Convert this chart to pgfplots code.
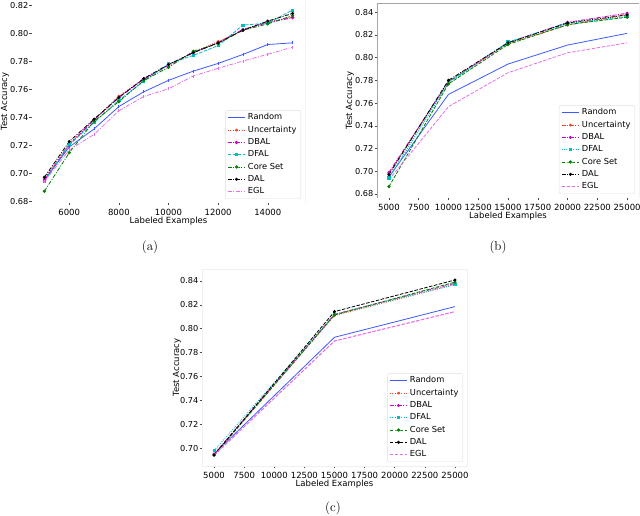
\documentclass[border=0pt]{standalone}
\usepackage{fontspec}
\usepackage{pgfplots}
\pgfplotsset{compat=1.18}
\newfontfamily\dv{DejaVu Sans}
\definecolor{cRand}{RGB}{60,90,255}
\definecolor{cUnc}{RGB}{240,70,40}
\definecolor{cDBAL}{RGB}{200,0,200}
\definecolor{cDFAL}{RGB}{0,190,190}
\definecolor{cCore}{RGB}{0,128,0}
\definecolor{cDAL}{RGB}{0,0,0}
\definecolor{cEGL}{RGB}{230,110,230}
\pgfplotsset{
  base/.style={
    scale only axis,
    anchor=south west,
    tick align=outside,
    major tick length=2.5pt,
    tick style={gray!60!black, line width=0.5pt},
    xtick pos=bottom, ytick pos=left,
    scaled x ticks=false, scaled y ticks=false,
    tick label style={font=\dv\fontsize{8.5}{10}\selectfont},
    label style={font=\dv\fontsize{8.5}{10}\selectfont},
    /pgf/number format/assume math mode=true,
    /pgf/number format/1000 sep={},
    xticklabel style={/pgf/number format/.cd, fixed, precision=0, 1000 sep={}},
    yticklabel style={inner xsep=1pt, font=\dv\fontsize{8.2}{10}\selectfont,
      /pgf/number format/.cd, fixed, fixed zerofill, precision=2},
    xlabel={Labeled Examples},
    ylabel={Test Accuracy},
    xlabel style={yshift=5pt},
    ylabel style={at={([xshift=-27pt]axis description cs:0,0.5)}, anchor=center},
    legend cell align=left,
    legend style={at={(1,0)}, anchor=south east, xshift=-4pt, yshift=4pt,
      draw=gray!25, rounded corners=2pt, fill=white,
      font=\dv\fontsize{8.3}{9.5}\selectfont,
      inner xsep=2pt, inner ysep=1pt,
      nodes={inner sep=2.35pt}},
    every axis plot/.append style={line width=0.8pt},
  },
  dotted2/.style={dash pattern=on 1pt off 1.3pt},
  dashdot2/.style={dash pattern=on 4pt off 1.5pt on 1pt off 1.5pt},
  dashed2/.style={dash pattern=on 3.5pt off 1.5pt},
}
\begin{document}
\begin{tikzpicture}
\useasboundingbox (0,0) rectangle (640pt,516pt);

% ---------------- (a) ----------------
\begin{axis}[base,
  at={(32pt,313pt)}, width=273pt, height=203pt,
  xmin=4500, xmax=15500, ymin=0.6786, ymax=0.8236,
  xtick={6000,8000,10000,12000,14000},
  ytick={0.68,0.70,0.72,0.74,0.76,0.78,0.80,0.82},
  axis line style={draw=none},
]
\draw[gray!70, line width=0.6pt] (rel axis cs:1,0) -- (rel axis cs:1,1);
\addplot[cRand, mark=|, mark size=1.5pt, legend image post style={mark=none}] coordinates {
(5000,0.695)(6000,0.7186)(7000,0.7315)(8000,0.7475)(9000,0.758)(10000,0.7662)
(11000,0.7728)(12000,0.7783)(13000,0.7847)(14000,0.7918)(15000,0.7930)};
\addlegendentry{Random}
\addplot[cUnc, dotted2, mark=*, mark size=1pt, mark options={solid}] coordinates {
(5000,0.696)(6000,0.721)(7000,0.738)(8000,0.755)(9000,0.767)(10000,0.777)
(11000,0.786)(12000,0.794)(13000,0.802)(14000,0.808)(15000,0.8115)};
\addlegendentry{Uncertainty}
\addplot[cDBAL, dashdot2, line width=1.1pt, mark=*, mark size=1.1pt, mark options={solid}] coordinates {
(5000,0.695)(6000,0.720)(7000,0.738)(8000,0.754)(9000,0.767)(10000,0.777)
(11000,0.786)(12000,0.793)(13000,0.8025)(14000,0.8075)(15000,0.8110)};
\addlegendentry{DBAL}
\addplot[cDFAL, dashed2, mark=square*, mark size=1.1pt, mark options={solid}] coordinates {
(5000,0.694)(6000,0.7205)(7000,0.736)(8000,0.752)(9000,0.7655)(10000,0.778)
(11000,0.784)(12000,0.791)(13000,0.8057)(14000,0.807)(15000,0.8164)};
\addlegendentry{DFAL}
\addplot[cCore, dashdot2, mark=*, mark size=1.2pt, mark options={solid}] coordinates {
(5000,0.687)(6000,0.7145)(7000,0.737)(8000,0.751)(9000,0.766)(10000,0.7755)
(11000,0.787)(12000,0.7925)(13000,0.802)(14000,0.8065)(15000,0.8125)};
\addlegendentry{Core Set}
\addplot[cDAL, dashdot2, mark=*, mark size=1.1pt, mark options={solid}] coordinates {
(5000,0.697)(6000,0.7225)(7000,0.7385)(8000,0.754)(9000,0.7675)(10000,0.7775)
(11000,0.786)(12000,0.793)(13000,0.802)(14000,0.8085)(15000,0.814)};
\addlegendentry{DAL}
\addplot[cEGL, dashdot2, mark=|, mark size=1.5pt, mark options={solid}, legend image post style={mark=none}] coordinates {
(5000,0.694)(6000,0.7165)(7000,0.7276)(8000,0.7445)(9000,0.7546)(10000,0.7602)
(11000,0.7693)(12000,0.7748)(13000,0.7800)(14000,0.7848)(15000,0.7900)};
\addlegendentry{EGL}
\end{axis}

% ---------------- (b) ----------------
\begin{axis}[base,
  at={(377pt,318pt)}, width=262pt, height=195pt,
  xmin=4000, xmax=26000, ymin=0.6765, ymax=0.848,
  xtick={5000,7500,10000,12500,15000,17500,20000,22500,25000},
  ytick={0.68,0.70,0.72,0.74,0.76,0.78,0.80,0.82,0.84},
  axis line style={draw=none},
]
\draw[gray!70, line width=0.6pt] (rel axis cs:0,0) -- (rel axis cs:0,1) -- (rel axis cs:1,1) -- (rel axis cs:1,0);
\addplot[cRand] coordinates {
(5000,0.695)(10000,0.7676)(15000,0.7943)(20000,0.811)(25000,0.8213)};
\addlegendentry{Random}
\addplot[cUnc, dashdot2, mark=*, mark size=1pt, mark options={solid}] coordinates {
(5000,0.698)(10000,0.779)(15000,0.8125)(20000,0.8285)(25000,0.838)};
\addlegendentry{Uncertainty}
\addplot[cDBAL, dashdot2, mark=*, mark size=1.1pt, mark options={solid}] coordinates {
(5000,0.699)(10000,0.7785)(15000,0.813)(20000,0.831)(25000,0.839)};
\addlegendentry{DBAL}
\addplot[cDFAL, dotted2, line width=1.3pt, mark=square*, mark size=1.1pt, mark options={solid}] coordinates {
(5000,0.694)(10000,0.778)(15000,0.8135)(20000,0.830)(25000,0.836)};
\addlegendentry{DFAL}
\addplot[cCore, dashed2, mark=*, mark size=1.2pt, mark options={solid}] coordinates {
(5000,0.6865)(10000,0.7768)(15000,0.8115)(20000,0.829)(25000,0.8355)};
\addlegendentry{Core Set}
\addplot[cDAL, dashdot2, mark=*, mark size=1.1pt, mark options={solid}] coordinates {
(5000,0.697)(10000,0.780)(15000,0.813)(20000,0.8305)(25000,0.8375)};
\addlegendentry{DAL}
\addplot[cEGL, dashed2] coordinates {
(5000,0.6925)(10000,0.7568)(15000,0.7867)(20000,0.8042)(25000,0.813)};
\addlegendentry{EGL}
\end{axis}

% ---------------- (c) ----------------
\begin{axis}[base,
  at={(202pt,50pt)}, width=265pt, height=197pt,
  xmin=4000, xmax=26000, ymin=0.685, ymax=0.850,
  xtick={5000,7500,10000,12500,15000,17500,20000,22500,25000},
  ytick={0.70,0.72,0.74,0.76,0.78,0.80,0.82,0.84},
  axis line style={draw=gray!12},
  ylabel style={at={([xshift=-25pt]axis description cs:0,0.5)}},
]
\addplot[cRand] coordinates {
(5000,0.695)(15000,0.7928)(25000,0.8185)};
\addlegendentry{Random}
\addplot[cUnc, dotted2, mark=*, mark size=1pt, mark options={solid}] coordinates {
(5000,0.6945)(15000,0.811)(25000,0.837)};
\addlegendentry{Uncertainty}
\addplot[cDBAL, dashdot2, mark=*, mark size=1.1pt, mark options={solid}] coordinates {
(5000,0.695)(15000,0.812)(25000,0.838)};
\addlegendentry{DBAL}
\addplot[cDFAL, dotted2, mark=square*, mark size=1.1pt, mark options={solid}] coordinates {
(5000,0.6978)(15000,0.812)(25000,0.8368)};
\addlegendentry{DFAL}
\addplot[cCore, dashed2, mark=*, mark size=1.2pt, mark options={solid}] coordinates {
(5000,0.694)(15000,0.8115)(25000,0.839)};
\addlegendentry{Core Set}
\addplot[cDAL, dashed2, mark=*, mark size=1.1pt, mark options={solid}] coordinates {
(5000,0.6942)(15000,0.8143)(25000,0.8408)};
\addlegendentry{DAL}
\addplot[cEGL, dashed2, line width=1.1pt] coordinates {
(5000,0.694)(15000,0.7897)(25000,0.8143)};
\addlegendentry{EGL}
\end{axis}

\node[font=\fontsize{13}{15}\selectfont] at (150pt,269pt) {(a)};
\node[font=\fontsize{13}{15}\selectfont] at (498pt,269pt) {(b)};
\node[font=\fontsize{13}{15}\selectfont] at (333pt,8pt) {(c)};
\end{tikzpicture}
\end{document}
